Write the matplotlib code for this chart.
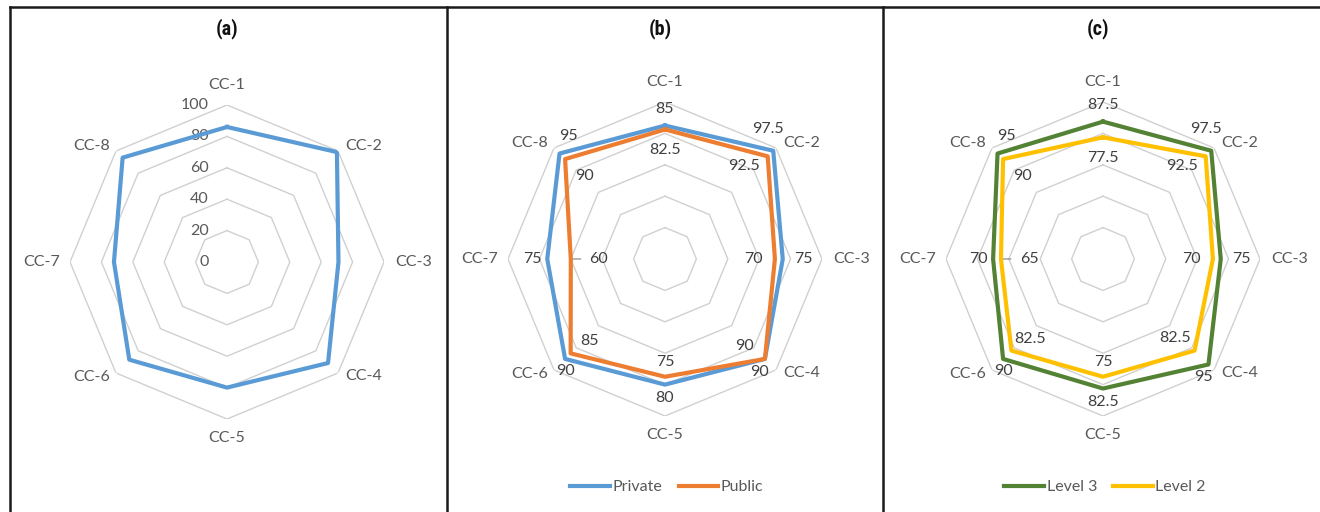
import numpy as np
import matplotlib
matplotlib.use("Agg")
import matplotlib.pyplot as plt
from matplotlib.lines import Line2D

plt.rcParams['font.family'] = ['Lato', 'DejaVu Sans']

# ---------------- data ----------------
categories = ["CC-1", "CC-2", "CC-3", "CC-4", "CC-5", "CC-6", "CC-7", "CC-8"]
overall = [86, 99, 71, 91, 80, 88, 72, 94]
private = [85, 97.5, 75, 90, 80, 90, 75, 95]
public = [82.5, 92.5, 70, 90, 75, 85, 60, 90]
level3 = [87.5, 97.5, 75, 95, 82.5, 90, 70, 95]
level2 = [77.5, 92.5, 70, 82.5, 75, 82.5, 65, 90]
radial_ticks = [0, 20, 40, 60, 80, 100]
panel_titles = ["(a)", "(b)", "(c)"]

# ---------------- style ----------------
W, H, DPI = 1320, 512, 100
BLUE, ORANGE, GREEN, GOLD = "#5B9BD5", "#ED7D31", "#548235", "#FFC000"
GRID = "#D0D0D0"
CAT_COL = "#595959"
LBL_COL = "#404040"
FS = 11.5
R_PX = 157

# category label placement: (dx, dy, ha)
cat_pos = [(0, 20, "center"), (7, 5, "left"), (11, 0, "left"), (7, -3, "left"),
           (0, -19, "center"), (-6, -4, "right"), (-10, 0, "right"), (-6, 5, "right")]
# data label offsets (pixels) for outer / inner series
outer_off = [(0, 17), (-5, 22), (21, 0), (-5, -13), (0, -13), (0, -12), (-15, 0), (9, 18)]
inner_off = [(0, -21), (-24, -10), (-21, 0), (-20, 13), (0, 15), (19, 12), (28, 0), (19, -17)]
inner_leader = [False, False, False, False, False, False, True, False]

fig = plt.figure(figsize=(W / DPI, H / DPI), dpi=DPI)
theta = np.arange(len(categories)) * 2 * np.pi / len(categories)
theta_c = np.append(theta, theta[0])


def make_ax(cx, cy):
    rect = [(cx - R_PX) / W, (H - cy - R_PX) / H, 2 * R_PX / W, 2 * R_PX / H]
    ax = fig.add_axes(rect, projection="polar")
    ax.set_theta_zero_location("N")
    ax.set_theta_direction(-1)
    ax.set_ylim(0, 100)
    ax.axis("off")
    for r in radial_ticks[1:]:
        ax.plot(theta_c, [r] * len(theta_c), color=GRID, lw=1.0, zorder=1)
    for i, c in enumerate(categories):
        dx, dy, ha = cat_pos[i]
        ax.annotate(c, xy=(theta[i], 100), xytext=(dx, dy), textcoords="offset pixels",
                    ha=ha, va="center", fontsize=FS, color=CAT_COL, annotation_clip=False)
    return ax


def series(ax, vals, color, label=None):
    v = list(vals) + [vals[0]]
    ax.plot(theta_c, v, color=color, lw=3.0, solid_joinstyle="round", zorder=3, label=label)


def data_labels(ax, vals, offsets, leader=None):
    for i, v in enumerate(vals):
        dx, dy = offsets[i]
        ax.annotate(f"{v:g}", xy=(theta[i], v), xytext=(dx, dy), textcoords="offset pixels",
                    ha="center", va="center", fontsize=FS, color=LBL_COL,
                    annotation_clip=False, zorder=5)
        if leader is not None and leader[i]:
            ax.annotate("", xy=(theta[i], v), xytext=(10, 0), textcoords="offset pixels",
                        arrowprops=dict(arrowstyle="-", color="#808080", lw=0.8,
                                        shrinkA=0, shrinkB=0), zorder=2)


# panel (a)
ax_a = make_ax(227, 262)
for t in radial_ticks:
    ax_a.annotate(str(t), xy=(0, t), xytext=(-18, 0), textcoords="offset pixels",
                  ha="right", va="center", fontsize=FS, color=CAT_COL, annotation_clip=False)
series(ax_a, overall, BLUE)

# panel (b)
ax_b = make_ax(665, 259)
series(ax_b, private, BLUE, "Private")
series(ax_b, public, ORANGE, "Public")
data_labels(ax_b, private, outer_off)
data_labels(ax_b, public, inner_off, inner_leader)

# panel (c)
ax_c = make_ax(1103, 259)
series(ax_c, level3, GREEN, "Level 3")
series(ax_c, level2, GOLD, "Level 2")
data_labels(ax_c, level3, outer_off)
data_labels(ax_c, level2, inner_off, inner_leader)

# legends
for ax, cx in [(ax_b, 667), (ax_c, 1105)]:
    h, l = ax.get_legend_handles_labels()
    fig.legend(h, l, loc="center", bbox_to_anchor=(cx / W, 1 - 487 / H), ncol=2,
               frameon=False, fontsize=FS, handlelength=2.5, handletextpad=0.15,
               columnspacing=1.0, labelcolor=CAT_COL)

# titles
for t, x in zip(panel_titles, [227, 660, 1098]):
    fig.text(x / W, 1 - 29 / H, t, ha="center", va="center", fontsize=14.5,
             fontweight="bold", fontstretch="condensed",
             family=["Liberation Sans Narrow", "Roboto Condensed", "DejaVu Sans"], color="#111111")

# panel borders
bc = "#1a1a1a"
fig.add_artist(Line2D([10 / W, 1.0], [1 - 7 / H, 1 - 7 / H], transform=fig.transFigure, color=bc, lw=1.8))
for x in [10, 447, 883]:
    fig.add_artist(Line2D([x / W, x / W], [0, 1 - 7 / H], transform=fig.transFigure, color=bc, lw=1.8))

fig.savefig("out.png", dpi=DPI)
